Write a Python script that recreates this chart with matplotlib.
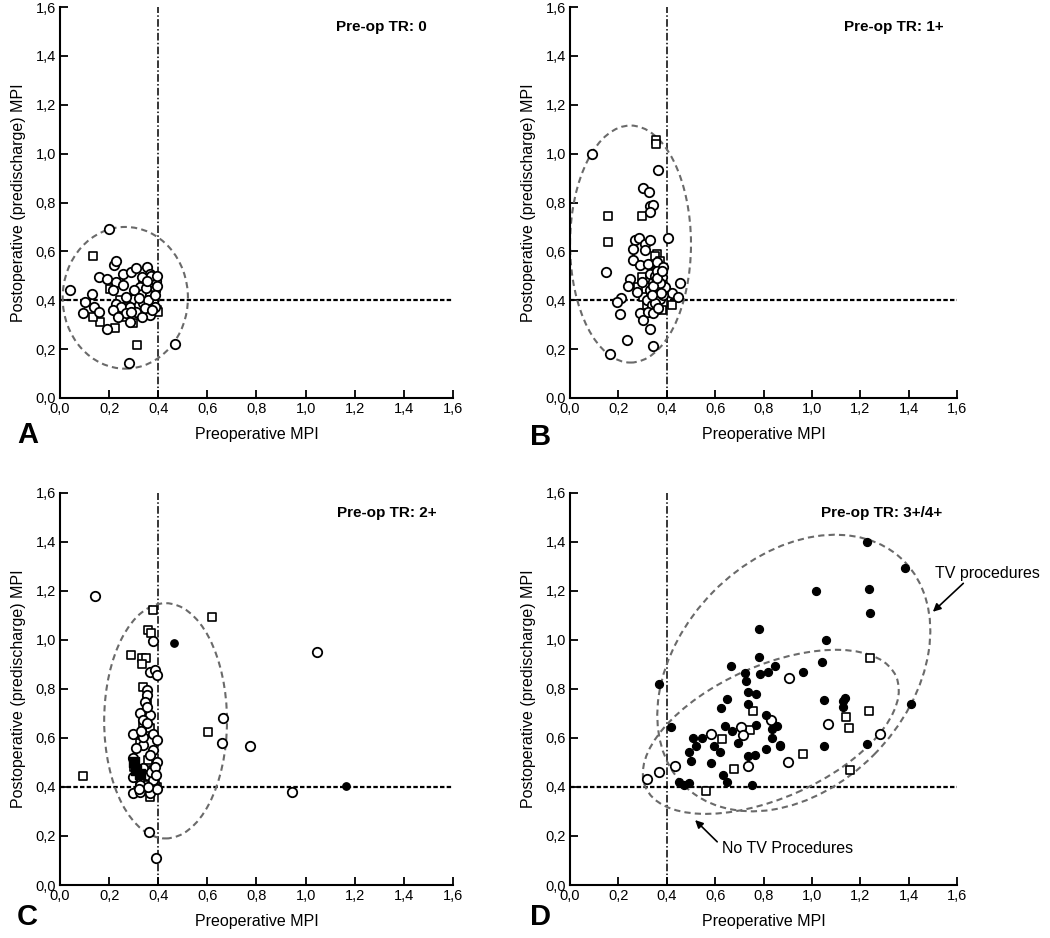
#!/usr/bin/env python
"""MPI before and after surgery, split by pre-op TR grade (4 panels)"""

import numpy as np
import matplotlib.pyplot as plt
from matplotlib.patches import Ellipse

plt.rcParams['font.family'] = ['Liberation Sans', 'DejaVu Sans']

###########
## DATA  ##
###########
ticks = [0.0, 0.2, 0.4, 0.6, 0.8, 1.0, 1.2, 1.4, 1.6]
tick_labels = ['0,0', '0,2', '0,4', '0,6', '0,8', '1,0', '1,2', '1,4', '1,6']
titles = ['Pre-op TR: 0', 'Pre-op TR: 1+', 'Pre-op TR: 2+', 'Pre-op TR: 3+/4+']
letters = ['A', 'B', 'C', 'D']

# panel A (TR 0)
a_circ_x = [0.20, 0.04, 0.13, 0.10, 0.14, 0.095, 0.16, 0.19, 0.47, 0.28, 0.16,
            0.22, 0.23, 0.255, 0.29, 0.31, 0.355, 0.366, 0.336, 0.19, 0.23, 0.258,
            0.217, 0.326, 0.36, 0.38, 0.387, 0.332, 0.366, 0.30, 0.27, 0.23, 0.25,
            0.285, 0.32, 0.346, 0.38, 0.217, 0.27, 0.31, 0.353, 0.387, 0.366,
            0.285, 0.332, 0.237, 0.35, 0.39, 0.30, 0.34,
            0.37, 0.395, 0.36, 0.385, 0.345, 0.375, 0.395, 0.355, 0.32, 0.29]
a_circ_y = [0.69, 0.444, 0.424, 0.393, 0.373, 0.346, 0.352, 0.284, 0.223, 0.144, 0.495,
            0.543, 0.56, 0.509, 0.516, 0.532, 0.536, 0.509, 0.495, 0.488, 0.475, 0.461,
            0.44, 0.454, 0.461, 0.475, 0.44, 0.427, 0.42, 0.407, 0.414, 0.386, 0.373,
            0.373, 0.38, 0.386, 0.393, 0.359, 0.346, 0.352, 0.359, 0.373, 0.339,
            0.312, 0.332, 0.332, 0.45, 0.48, 0.44, 0.39,
            0.50, 0.46, 0.40, 0.42, 0.37, 0.36, 0.50, 0.48, 0.41, 0.35]
a_sq_x = [0.133, 0.312, 0.204, 0.244, 0.312, 0.394, 0.366, 0.258, 0.299, 0.224,
          0.373, 0.387, 0.326, 0.271, 0.163, 0.136, 0.40, 0.34, 0.36, 0.39, 0.35]
a_sq_y = [0.58, 0.216, 0.448, 0.40, 0.42, 0.359, 0.346, 0.332, 0.305, 0.288,
          0.488, 0.414, 0.40, 0.373, 0.312, 0.332, 0.352, 0.47, 0.43, 0.45, 0.39]

# panel B (TR 1+)
b_circ_x = [0.09, 0.365, 0.303, 0.328, 0.33, 0.344, 0.33, 0.404, 0.147, 0.455,
            0.42, 0.447, 0.21, 0.193, 0.207, 0.29, 0.303, 0.33, 0.234, 0.344, 0.165,
            0.268, 0.286, 0.31, 0.331, 0.262, 0.31, 0.262, 0.289, 0.324, 0.358,
            0.386, 0.248, 0.241, 0.275, 0.296, 0.331, 0.344, 0.365, 0.379, 0.331,
            0.351, 0.372, 0.317, 0.337, 0.358, 0.324, 0.344, 0.386, 0.393, 0.35, 0.37,
            0.36, 0.345, 0.375, 0.35, 0.365, 0.34, 0.36, 0.38]
b_circ_y = [1.00, 0.933, 0.86, 0.845, 0.785, 0.79, 0.76, 0.656, 0.516, 0.469,
            0.43, 0.414, 0.41, 0.394, 0.345, 0.348, 0.318, 0.284, 0.236, 0.212, 0.18,
            0.645, 0.656, 0.631, 0.648, 0.611, 0.604, 0.563, 0.543, 0.55, 0.556,
            0.536, 0.488, 0.46, 0.434, 0.475, 0.509, 0.475, 0.454, 0.495, 0.441,
            0.421, 0.407, 0.40, 0.38, 0.366, 0.352, 0.348, 0.421, 0.454, 0.50, 0.47,
            0.52, 0.46, 0.43, 0.39, 0.37, 0.42, 0.49, 0.52]
b_sq_x = [0.355, 0.355, 0.156, 0.296, 0.156, 0.358, 0.296, 0.358, 0.372, 0.344,
          0.365, 0.317, 0.386, 0.42, 0.282, 0.303, 0.379, 0.35, 0.355, 0.37]
b_sq_y = [1.055, 1.04, 0.743, 0.743, 0.638, 0.588, 0.495, 0.522, 0.468, 0.441,
          0.40, 0.38, 0.387, 0.379, 0.454, 0.414, 0.359, 0.58, 0.50, 0.56]

# panel C (TR 2+)
c_circ_x = [0.142, 0.377, 0.366, 0.387, 0.396, 0.665, 0.658, 0.773, 0.364, 0.39,
            1.045, 0.943, 0.353, 0.353, 0.346, 0.326, 0.367, 0.34, 0.38, 0.298,
            0.394, 0.34, 0.38, 0.298, 0.367, 0.394, 0.298, 0.34, 0.353, 0.38,
            0.298, 0.326, 0.367, 0.394, 0.34, 0.353, 0.326,
            0.31, 0.37, 0.385, 0.36, 0.32, 0.39, 0.355, 0.33]
c_circ_y = [1.181, 0.996, 0.87, 0.877, 0.857, 0.68, 0.578, 0.567, 0.218, 0.109,
            0.951, 0.381, 0.796, 0.775, 0.748, 0.70, 0.693, 0.673, 0.618, 0.618,
            0.59, 0.57, 0.55, 0.52, 0.53, 0.50, 0.44, 0.476, 0.45, 0.43,
            0.375, 0.38, 0.375, 0.39, 0.605, 0.728, 0.41,
            0.56, 0.46, 0.48, 0.40, 0.39, 0.45, 0.66, 0.63]
c_sq_x = [0.38, 0.617, 0.36, 0.37, 0.29, 0.332, 0.35, 0.332, 0.604, 0.095,
          0.34, 0.353, 0.34, 0.367, 0.326, 0.30, 0.38, 0.353, 0.326, 0.394, 0.367,
          0.385, 0.36]
c_sq_y = [1.122, 1.093, 1.04, 1.03, 0.94, 0.925, 0.928, 0.90, 0.626, 0.446,
          0.81, 0.755, 0.65, 0.64, 0.578, 0.48, 0.47, 0.41, 0.43, 0.40, 0.36,
          0.42, 0.51]
c_fsq_x = [0.30, 0.31, 0.325]
c_fsq_y = [0.50, 0.47, 0.455]
c_dot_x = [0.465, 1.165]
c_dot_y = [0.986, 0.404]

# panel D (TR 3+/4+)
d_dot_x = [1.226, 1.384, 1.016, 1.236, 1.24, 1.06, 0.782, 0.782, 1.04, 0.665,
           0.847, 0.82, 0.785, 0.723, 0.964, 0.727, 0.734, 0.767, 0.648, 0.624,
           0.737, 1.051, 1.136, 1.127, 0.81, 0.854, 0.768, 0.64, 0.668, 0.833,
           0.833, 0.868, 0.812, 0.693, 0.507, 0.544, 0.52, 0.595, 0.62, 0.493,
           0.499, 0.581, 0.734, 0.764, 0.634, 0.647, 0.754, 0.45, 0.471, 0.493,
           0.416, 0.368, 1.05, 1.226, 1.408, 1.13, 0.868]
d_dot_y = [1.399, 1.292, 1.20, 1.207, 1.111, 1.00, 1.045, 0.932, 0.91, 0.895,
           0.894, 0.87, 0.861, 0.864, 0.868, 0.832, 0.786, 0.78, 0.759, 0.724,
           0.737, 0.755, 0.765, 0.728, 0.694, 0.649, 0.653, 0.649, 0.63, 0.635,
           0.598, 0.568, 0.553, 0.578, 0.601, 0.598, 0.568, 0.568, 0.544, 0.541,
           0.507, 0.499, 0.526, 0.53, 0.449, 0.422, 0.408, 0.422, 0.408, 0.418,
           0.646, 0.82, 0.568, 0.576, 0.738, 0.75, 0.57]
d_circ_x = [0.906, 0.83, 0.705, 0.716, 0.581, 1.067, 1.281, 0.899, 0.737, 0.434,
            0.369, 0.317]
d_circ_y = [0.846, 0.674, 0.646, 0.612, 0.615, 0.657, 0.616, 0.50, 0.487, 0.487,
            0.461, 0.431]
d_sq_x = [1.24, 0.755, 0.744, 0.63, 1.139, 1.154, 1.237, 0.964, 0.678, 1.157, 0.564]
d_sq_y = [0.928, 0.711, 0.632, 0.596, 0.684, 0.639, 0.711, 0.535, 0.473, 0.469, 0.385]

# dashed group ellipses: (cx, cy, width, height, angle)
ell_a = [(0.266, 0.41, 0.51, 0.58, 0)]
ell_b = [(0.25, 0.63, 0.50, 0.97, 0)]
ell_c = [(0.43, 0.67, 0.50, 0.96, 0)]
ell_d = [(0.925, 0.865, 1.29, 0.94, 45), (0.83, 0.625, 1.13, 0.54, 23.5)]

###########
## PLOTS ##
###########
fig = plt.figure(figsize=(10.5, 9.38), dpi=100)
boxes = [[0.0571, 0.5757, 0.3743, 0.4168],
         [0.5429, 0.5757, 0.3686, 0.4168],
         [0.0571, 0.0565, 0.3743, 0.418],
         [0.5429, 0.0565, 0.3686, 0.418]]
title_pos = [(1.307, 1.518), (1.339, 1.518), (1.33, 1.52), (1.29, 1.52)]
letter_pos = [(0.016, 0.528), (0.505, 0.526), (0.016, 0.014), (0.505, 0.014)]

open_kw = dict(s=46, facecolors='white', edgecolors='black', linewidths=1.3, zorder=3)
sq_kw = dict(s=38, marker='s', facecolors='white', edgecolors='black', linewidths=1.2, zorder=3)

axes = []
for ii in range(4):
    ax = fig.add_axes(boxes[ii])
    ax.set_xlim(0, 1.6)
    ax.set_ylim(0, 1.6)
    ax.spines['top'].set_visible(False)
    ax.spines['right'].set_visible(False)
    ax.spines['left'].set_linewidth(1.5)
    ax.spines['bottom'].set_linewidth(1.5)
    ax.set_xticks(ticks)
    ax.set_yticks(ticks)
    ax.set_xticklabels(tick_labels)
    ax.set_yticklabels(tick_labels)
    ax.tick_params(direction='in', length=6, width=1.3, labelsize=10.5, pad=3)
    ax.set_xlabel('Preoperative MPI', fontsize=11.5, labelpad=8)
    ax.set_ylabel('Postoperative (predischarge) MPI', fontsize=11.5, labelpad=7)
    ax.plot([0, 1.6], [0.4, 0.4], color='black', lw=1.6, ls=(0, (2, 1)), zorder=2)
    ax.plot([0.4, 0.4], [0, 1.6], color='black', lw=1.1, ls=(0, (5, 1.5, 1, 1.5)), zorder=2)
    ax.text(title_pos[ii][0], title_pos[ii][1], titles[ii], fontsize=11,
            fontweight='bold', ha='center', va='center')
    fig.text(letter_pos[ii][0], letter_pos[ii][1], letters[ii], fontsize=21,
             fontweight='bold', ha='left', va='baseline')
    axes.append(ax)

def draw_ellipses(ax, ells):
    for (cx, cy, w, h, ang) in ells:
        ax.add_patch(Ellipse((cx, cy), w, h, angle=ang, fill=False,
                             edgecolor='#6a6a6a', lw=1.5, ls=(0, (3, 2)), zorder=2.5))

# A
axes[0].scatter(a_sq_x, a_sq_y, **sq_kw)
axes[0].scatter(a_circ_x, a_circ_y, **open_kw)
draw_ellipses(axes[0], ell_a)

# B
axes[1].scatter(b_sq_x, b_sq_y, **sq_kw)
axes[1].scatter(b_circ_x, b_circ_y, **open_kw)
draw_ellipses(axes[1], ell_b)

# C
axes[2].scatter(c_sq_x, c_sq_y, **sq_kw)
axes[2].scatter(c_circ_x, c_circ_y, **open_kw)
axes[2].scatter(c_fsq_x, c_fsq_y, s=60, marker='s', color='black', zorder=3)
axes[2].scatter(c_dot_x, c_dot_y, s=28, color='black', zorder=3)
draw_ellipses(axes[2], ell_c)

# D
axes[3].scatter(d_sq_x, d_sq_y, **sq_kw)
axes[3].scatter(d_circ_x, d_circ_y, **open_kw)
axes[3].scatter(d_dot_x, d_dot_y, s=32, color='black', zorder=3)
draw_ellipses(axes[3], ell_d)
axes[3].annotate('TV procedures', xy=(1.50, 1.115), xytext=(1.508, 1.273),
                 fontsize=11.5, ha='left', va='center', annotation_clip=False,
                 arrowprops=dict(arrowstyle='-|>', color='black', lw=1.2,
                                 shrinkA=0, shrinkB=0, relpos=(0.3, 0.0)))
axes[3].annotate('No TV Procedures', xy=(0.517, 0.265), xytext=(0.628, 0.151),
                 fontsize=11.5, ha='left', va='center', annotation_clip=False,
                 arrowprops=dict(arrowstyle='-|>', color='black', lw=1.2,
                                 shrinkA=2, shrinkB=0, relpos=(0.0, 0.6)))

fig.savefig('out.png', dpi=100)
